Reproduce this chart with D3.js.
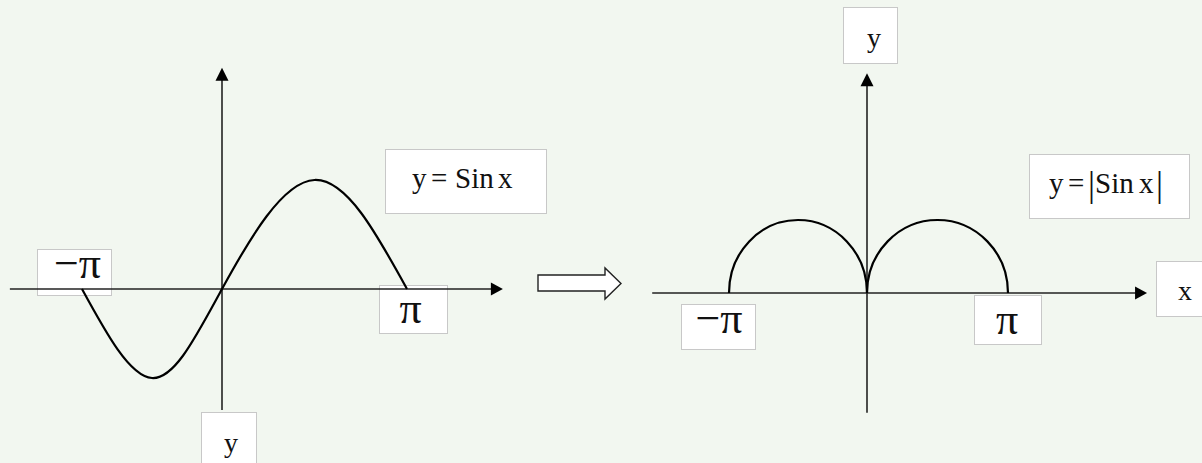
<!DOCTYPE html>
<html>
<head>
<meta charset="utf-8">
<script src="https://cdn.jsdelivr.net/npm/d3@7"></script>
<style>
  html, body { margin: 0; padding: 0; background: #f2f7f0; }
  svg { display: block; }
  text { font-family: "Liberation Serif", "Times New Roman", serif; fill: #111; }
</style>
</head>
<body>
<div id="chart"></div>
<script>
const PI = Math.PI;

// Left graph: y = sin x, key points
const sinX = [-PI, -PI / 2, 0, PI / 2, PI];
const sinY = [0, -1, 0, 1, 0];
// axis extents (in data units)
const leftXExtent = [-4.76, 4.77];
const leftYExtent = [-1.36, 2.03];

// Right graph: y = |sin x|, drawn as two arches
const arches = [[-PI, 0], [0, PI]];
const archPeak = 1;
const rightXExtent = [-4.89, 6.24];
const rightYExtent = [-1.64, 3.01];

// Tick labels
const tickLabels = ['\u2212\u03c0', '\u03c0'];

const W = 1202, H = 463;
const svg = d3.select('#chart').append('svg')
    .attr('width', W)
    .attr('height', H);

svg.append('rect').attr('width', W).attr('height', H).attr('fill', '#f2f7f0');

// Scales (piecewise: the drawing is not symmetric)
const xL = d3.scaleLinear().domain([-PI, 0, PI]).range([82, 222, 407]);
const yL = d3.scaleLinear().domain([-1, 0, 1]).range([378, 289, 180]);
const xR = d3.scaleLinear().domain([-PI, 0, PI]).range([729, 867, 1008]);
const yR = d3.scaleLinear().domain([0, 1]).range([293, 220]);

// white label box helper
function box(x, y, w, h) {
    svg.append('rect')
        .attr('x', x).attr('y', y)
        .attr('width', w).attr('height', h)
        .attr('fill', '#fff')
        .attr('stroke', '#c8c8c8')
        .attr('stroke-width', 1);
}

function arrowHead(x, y, dir) {
    // dir: 'right' or 'up'
    const p = dir === 'right'
        ? [[x, y], [x - 12, y - 6.5], [x - 12, y + 6.5]]
        : [[x, y], [x - 6.5, y + 13], [x + 6.5, y + 13]];
    svg.append('path')
        .attr('d', d3.line()(p) + 'Z')
        .attr('fill', '#000');
}

// ---- label boxes (behind the lines) ----
box(37.5, 249.5, 74, 46);     // -pi left
box(379.5, 285.5, 68, 48);    // pi left
box(201.5, 412.5, 55, 60);    // y bottom
box(385.5, 149.5, 161, 64);   // y = Sin x
box(843.5, 7.5, 54, 56);      // y top right
box(681.5, 304.5, 74, 45);    // -pi right
box(974.5, 295.5, 67, 49);    // pi right
box(1156.5, 261.5, 60, 55);   // x
box(1029.5, 154.5, 160, 64);  // y = |Sin x|

// ---- left axes ----
svg.append('line')
    .attr('x1', xL(leftXExtent[0])).attr('x2', xL(leftXExtent[1]) - 10)
    .attr('y1', yL(0)).attr('y2', yL(0))
    .attr('stroke', '#222').attr('stroke-width', 1.6);
arrowHead(xL(leftXExtent[1]), yL(0), 'right');

svg.append('line')
    .attr('x1', xL(0)).attr('x2', xL(0))
    .attr('y1', yL(leftYExtent[1]) + 10).attr('y2', yL(leftYExtent[0]))
    .attr('stroke', '#222').attr('stroke-width', 1.6);
arrowHead(xL(0), yL(leftYExtent[1]), 'up');

// sine curve
svg.append('path')
    .datum(sinX.map((x, i) => [x, sinY[i]]))
    .attr('d', d3.line().x(d => xL(d[0])).y(d => yL(d[1])).curve(d3.curveNatural))
    .attr('fill', 'none')
    .attr('stroke', '#000')
    .attr('stroke-width', 2.2);

// ---- hollow arrow between the graphs ----
const ha = [[538, 275], [605, 275], [605, 268], [621, 283.5], [605, 299], [605, 291], [538, 291]];
svg.append('path')
    .attr('d', d3.line()(ha) + 'Z')
    .attr('fill', '#fff')
    .attr('stroke', '#222')
    .attr('stroke-width', 1.4);

// ---- right axes ----
svg.append('line')
    .attr('x1', xR(rightXExtent[0])).attr('x2', xR(rightXExtent[1]) - 10)
    .attr('y1', yR(0)).attr('y2', yR(0))
    .attr('stroke', '#222').attr('stroke-width', 1.6);
arrowHead(xR(rightXExtent[1]), yR(0), 'right');

svg.append('line')
    .attr('x1', xR(0)).attr('x2', xR(0))
    .attr('y1', yR(rightYExtent[1]) + 10).attr('y2', yR(rightYExtent[0]))
    .attr('stroke', '#222').attr('stroke-width', 1.6);
arrowHead(xR(0), yR(rightYExtent[1]), 'up');

// |sin x| arches
svg.selectAll('.arch')
    .data(arches)
    .enter()
    .append('path')
    .attr('class', 'arch')
    .attr('d', d => {
        const x0 = xR(d[0]), x1 = xR(d[1]), y0 = yR(0);
        const rx = (x1 - x0) / 2, ry = y0 - yR(archPeak);
        return `M${x0},${y0} A${rx},${ry} 0 0 1 ${x1},${y0}`;
    })
    .attr('fill', 'none')
    .attr('stroke', '#000')
    .attr('stroke-width', 2.2);

// ---- texts ----
function label(txt, x, y, size) {
    return svg.append('text')
        .attr('x', x).attr('y', y)
        .attr('text-anchor', 'middle')
        .attr('font-size', size)
        .text(txt);
}

label(tickLabels[0], xL(-PI) - 4.5, 278, 44);
label(tickLabels[1], xL(PI) + 3.5, 323, 44);
label('y', 231, 452, 28);
label(tickLabels[0], xR(-PI) - 10, 333, 44);
label(tickLabels[1], xR(PI) - 1, 334, 44);
label('y', 874, 47, 28);
label('x', 1185, 300, 28);

// formula pieces placed like the equation editor spaces them
function formula(parts, y) {
    const t = svg.append('text').attr('y', y).attr('font-size', 29);
    parts.forEach(p => {
        const ts = t.append('tspan').attr('x', p[1]).attr('y', y).text(p[0]);
        if (p[0] === '|') ts.attr('font-size', 35).attr('y', y + 3);
    });
}
formula([['y', 412], ['=', 431], ['Sin', 455], ['x', 498]], 188);
formula([['y', 1049], ['=', 1068], ['|', 1088], ['Sin', 1095], ['x', 1139], ['|', 1156]], 193);
</script>
</body>
</html>
